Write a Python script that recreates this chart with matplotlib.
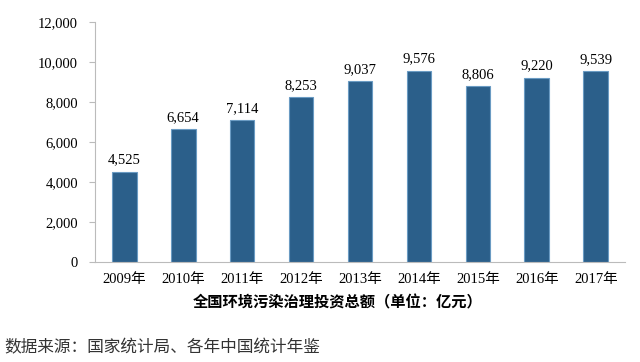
import matplotlib
matplotlib.use("Agg")
import matplotlib.pyplot as plt
from matplotlib.ticker import FuncFormatter

# data
years = ['2009年', '2010年', '2011年', '2012年', '2013年', '2014年', '2015年', '2016年', '2017年']
invest = [4525, 6654, 7114, 8253, 9037, 9576, 8806, 9220, 9539]

fonts = ['Liberation Serif', 'Noto Sans CJK SC']
plt.rcParams['font.family'] = fonts

fig = plt.figure(figsize=(6.4, 3.62), dpi=100)
ax = fig.add_axes([0.148, 0.276, 0.829, 0.663])

x = range(len(years))
ax.bar(x, invest, width=0.42, color='#2B5F8A', edgecolor='#6A9BC3', linewidth=0.8)

for i, v in enumerate(invest):
    ax.text(i, v + 250, f'{v:,}', ha='center', va='bottom', fontsize=10.5)

ax.set_xlim(-0.5, len(years) - 0.5)
ax.set_ylim(0, 12000)
ax.set_yticks(range(0, 12001, 2000))
ax.yaxis.set_major_formatter(FuncFormatter(lambda v, p: f'{int(v):,}'))
ax.set_xticks(list(x))
ax.set_xticklabels(years)
ax.tick_params(axis='y', labelsize=10.5, length=4, color='#BBBBBB', pad=8)
ax.tick_params(axis='x', labelsize=10.5, length=0, pad=8)

for s in ['top', 'right']:
    ax.spines[s].set_visible(False)
ax.spines['left'].set_color('#BBBBBB')
ax.spines['bottom'].set_color('#BBBBBB')

fig.text(0.527, 0.165, '全国环境污染治理投资总额（单位：亿元）', ha='center', va='center',
         fontsize=11, fontweight='bold', family=['Noto Sans CJK SC'])
fig.text(0.006, 0.04, '数据来源：国家统计局、各年中国统计年鉴', ha='left', va='center',
         fontsize=12, family=['Noto Sans CJK SC'], color='#333333')

fig.savefig('out.png', dpi=100)
